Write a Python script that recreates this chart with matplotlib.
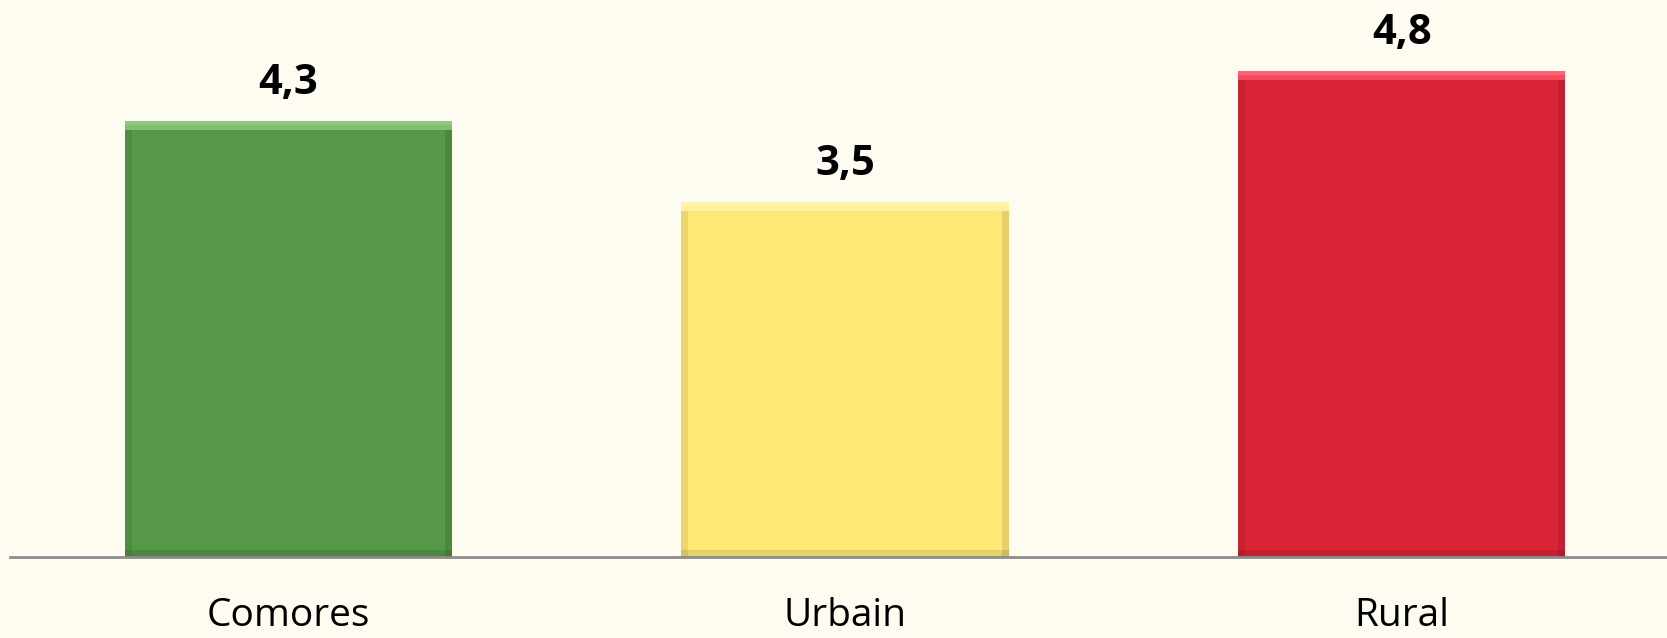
import matplotlib
matplotlib.use("Agg")
import matplotlib.pyplot as plt
from matplotlib.patches import Rectangle

categories = ["Comores", "Urbain", "Rural"]
values = [4.3, 3.5, 4.8]
labels = ["4,3", "3,5", "4,8"]
colors = ["#559847", "#FFE876", "#DC2437"]
light = ["#8FCB7F", "#FFF5B0", "#FF5A6A"]

W, H = 1667, 638
fig = plt.figure(figsize=(W / 100, H / 100), dpi=100)
bg = "#FEFBF0"
fig.patch.set_facecolor(bg)

base_px = 81
ax = fig.add_axes([10 / W, base_px / H, 1670 / W, (H - base_px) / H])
ax.set_facecolor(bg)
ax.set_xlim(-0.5, 2.5)
ax.set_ylim(0, (H - base_px) / 101.3)

bw = 0.588
x = list(range(len(categories)))
ax.bar(x, values, width=bw, color=colors, zorder=2)

# bevel shading
u_y = 1 / 101.3
u_x = 3 / 1670
for xi, v, c, lc in zip(x, values, colors, light):
    left = xi - bw / 2
    ax.add_patch(Rectangle((left, v - 9 * u_y), bw, 9 * u_y, color=lc, alpha=0.75, zorder=3, lw=0))
    ax.add_patch(Rectangle((left, v - 4 * u_y), bw, 4 * u_y, color="white", alpha=0.15, zorder=3, lw=0))
    ax.add_patch(Rectangle((left, 0), 7 * u_x, v - 9 * u_y, color="black", alpha=0.07, zorder=3, lw=0))
    ax.add_patch(Rectangle((left + bw - 7 * u_x, 0), 7 * u_x, v - 9 * u_y, color="black", alpha=0.1, zorder=3, lw=0))
    ax.add_patch(Rectangle((left, 0), bw, 7 * u_y, color="black", alpha=0.1, zorder=3, lw=0))

for xi, v, lbl in zip(x, values, labels):
    ax.text(xi, v + 27 * u_y, lbl, ha="center", va="baseline",
            fontsize=30, fontweight="bold", family="Open Sans", color="black")

ax.set_xticks(x)
ax.set_xticklabels(categories, fontsize=28, family="Open Sans")
ax.tick_params(axis="x", length=0, pad=29)
ax.set_yticks([])
for s in ["top", "left", "right"]:
    ax.spines[s].set_visible(False)
ax.spines["bottom"].set_color("#8C8C8C")
ax.spines["bottom"].set_linewidth(2)
ax.spines["bottom"].set_zorder(4)

fig.savefig("out.png", dpi=100, facecolor=bg)
